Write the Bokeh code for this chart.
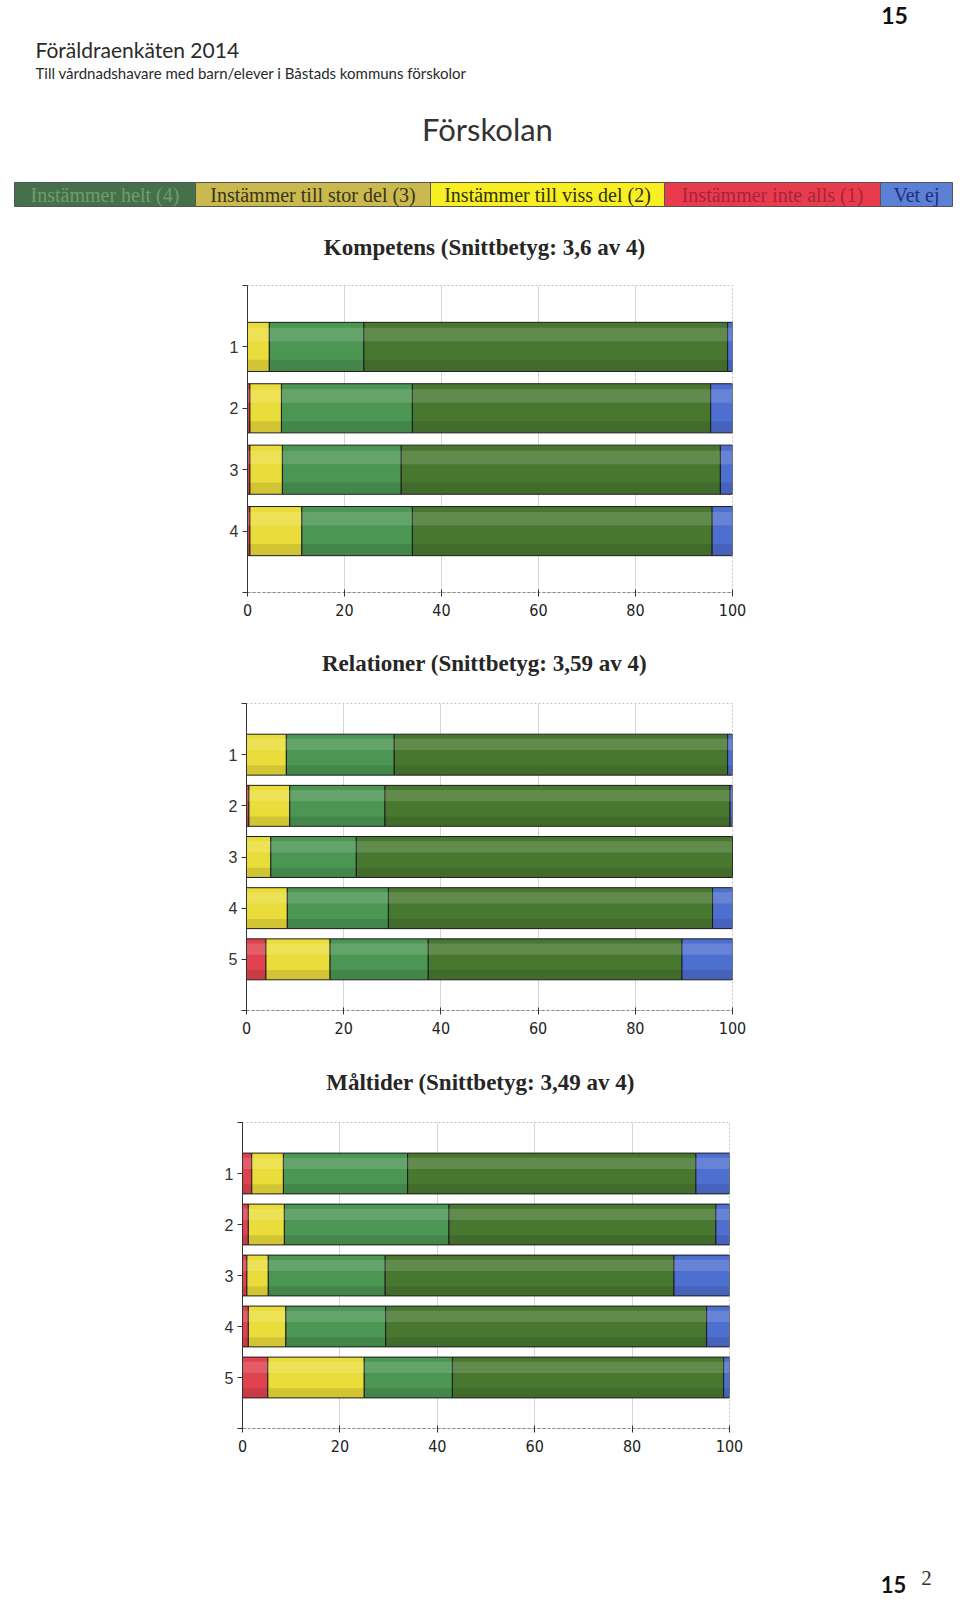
from bokeh.plotting import figure
from bokeh.models import ColumnDataSource, Range1d, FixedTicker
from bokeh.layouts import column
from bokeh.core.properties import value
from bokeh.transform import dodge
from bokeh.embed import file_html
from bokeh.resources import INLINE

# ---------------- data ----------------
page_number = "15"
doc_title = "Föräldraenkäten 2014"
doc_subtitle = "Till vårdnadshavare med barn/elever i Båstads kommuns förskolor"
section_title = "Förskolan"

legend_labels = ["Instämmer helt (4)", "Instämmer till stor del (3)",
                 "Instämmer till viss del (2)", "Instämmer inte alls (1)", "Vet ej"]

x_ticks = [0, 20, 40, 60, 80, 100]

kompetens_title = "Kompetens (Snittbetyg: 3,6 av 4)"
kompetens_rows = ["1", "2", "3", "4"]
kompetens_red = [0.0, 0.5, 0.5, 0.5]
kompetens_yellow = [4.5, 6.5, 6.7, 10.7]
kompetens_light = [19.5, 27.0, 24.5, 22.8]
kompetens_dark = [75.0, 61.5, 65.8, 61.8]
kompetens_blue = [1.0, 4.5, 2.5, 4.2]

relationer_title = "Relationer (Snittbetyg: 3,59 av 4)"
relationer_rows = ["1", "2", "3", "4", "5"]
relationer_red = [0.0, 0.5, 0.0, 0.0, 4.0]
relationer_yellow = [8.2, 8.4, 5.0, 8.4, 13.2]
relationer_light = [22.2, 19.6, 17.6, 20.8, 20.2]
relationer_dark = [68.6, 71.0, 77.4, 66.7, 52.2]
relationer_blue = [1.0, 0.5, 0.0, 4.1, 10.4]

maltider_title = "Måltider (Snittbetyg: 3,49 av 4)"
maltider_rows = ["1", "2", "3", "4", "5"]
maltider_red = [1.9, 1.2, 0.9, 1.2, 5.2]
maltider_yellow = [6.5, 7.4, 4.4, 7.7, 19.8]
maltider_light = [25.5, 33.8, 24.0, 20.5, 18.1]
maltider_dark = [59.2, 54.8, 59.3, 65.9, 55.7]
maltider_blue = [6.9, 2.8, 11.4, 4.7, 1.2]

# ---------------- styles ----------------
W = 960
BAR_COLORS = ["#e0424f", "#eadc3a", "#4b9652", "#487830", "#4d6fd0"]
LEG_FILL = ["#46704a", "#c9b94e", "#f8ef22", "#e93b4e", "#5c80d6"]
LEG_TEXT = ["#6f9c6c", "#3a3418", "#33300c", "#a8233a", "#1f2f7a"]
LEG_EDGES = [14, 195, 430, 664, 880, 952]


def no_align(f):
    try:
        f.frame_align = False
    except Exception:
        pass


def text_fig(h):
    f = figure(width=W, height=h, x_range=Range1d(0, W), y_range=Range1d(h, 0),
               output_backend="svg", toolbar_location=None, min_border=0,
               x_axis_location=None, y_axis_location=None)
    f.grid.visible = False
    f.outline_line_color = None
    f.background_fill_color = "white"
    f.border_fill_color = "white"
    no_align(f)
    return f


def put(f, x, y, t, size, font="Lato", color="#222222", style="normal", align="left"):
    f.text(x=[x], y=[y], text=[t], text_font=value(font), text_font_size=f"{size}px",
           text_color=color, text_font_style=style, text_align=align,
           text_baseline="middle")


def chart_title(f, x, y, t):
    put(f, x, y, t, 23, font="Liberation Serif", color="#262626", style="bold", align="center")


def chart(rows, red, yellow, light, dark, blue, height, top, bottom, left, fw):
    n = len(rows)
    total = [a + b + c + d + e for a, b, c, d, e in zip(red, yellow, light, dark, blue)]
    src = ColumnDataSource(dict(y=list(range(1, n + 1)), red=red, yellow=yellow,
                                light=light, dark=dark, blue=blue, total=total))
    p = figure(width=W, height=height, x_range=Range1d(0, 100), y_range=Range1d(n + 1, 0),
               output_backend="svg", toolbar_location=None,
               min_border_top=top, min_border_bottom=bottom,
               min_border_left=left, min_border_right=W - left - fw)
    no_align(p)
    p.background_fill_color = "white"
    p.border_fill_color = "white"
    p.outline_line_color = "#c4c4c4"
    p.outline_line_dash = "2 2"
    p.hbar_stack(["red", "yellow", "light", "dark", "blue"], y="y", height=0.8,
                 color=BAR_COLORS, line_color="#1c1c1c", line_width=1, source=src)
    # cylinder-like shading
    p.hbar(y=dodge("y", -0.2, range=p.y_range), left=0, right="total", height=0.22,
           fill_color="white", fill_alpha=0.14, line_color=None, source=src)
    p.hbar(y=dodge("y", 0.3, range=p.y_range), left=0, right="total", height=0.18,
           fill_color="black", fill_alpha=0.10, line_color=None, source=src)

    p.xaxis.ticker = FixedTicker(ticks=x_ticks)
    p.xgrid.ticker = FixedTicker(ticks=x_ticks)
    p.xgrid.grid_line_color = "#d6d6d6"
    p.ygrid.visible = False
    p.xaxis.axis_line_color = "#8a8a8a"
    p.xaxis.axis_line_dash = "3 2"
    p.xaxis.major_tick_in = 3
    p.xaxis.major_tick_out = 4
    p.xaxis.major_tick_line_color = "#333333"
    p.xaxis.minor_tick_line_color = None
    p.xaxis.major_label_standoff = 7
    p.xaxis.major_label_text_font = "'Liberation Sans Narrow', 'DejaVu Sans Condensed', sans-serif"
    p.xaxis.major_label_text_font_size = "16px"
    p.xaxis.major_label_text_color = "#222222"

    p.yaxis.ticker = FixedTicker(ticks=list(range(1, n + 1)), minor_ticks=[0, n + 1])
    p.yaxis.major_label_overrides = {i + 1: r for i, r in enumerate(rows)}
    p.yaxis.axis_line_color = "#333333"
    p.yaxis.major_tick_in = 0
    p.yaxis.major_tick_out = 5
    p.yaxis.minor_tick_in = 0
    p.yaxis.minor_tick_out = 5
    p.yaxis.major_tick_line_color = "#333333"
    p.yaxis.minor_tick_line_color = "#333333"
    p.yaxis.major_label_standoff = 4
    p.yaxis.major_label_text_font = "'Liberation Sans', Arial, sans-serif"
    p.yaxis.major_label_text_font_size = "16px"
    p.yaxis.major_label_text_color = "#333333"
    return p


# ---------------- header ----------------
head = text_fig(270)
put(head, 894, 15, page_number, 23, font="Lato", color="#111111", style="bold", align="center")
put(head, 35, 49, doc_title, 21, color="#2a2a2a")
put(head, 35, 72, doc_subtitle, 15, color="#2a2a2a")
put(head, 487, 128, section_title, 31, color="#333333", align="center")
head.quad(left=LEG_EDGES[:-1], right=LEG_EDGES[1:], top=[182] * 5, bottom=[206] * 5,
          fill_color=LEG_FILL, line_color="#555555", line_width=1)
for i, lab in enumerate(legend_labels):
    put(head, (LEG_EDGES[i] + LEG_EDGES[i + 1]) / 2, 194, lab, 20,
        font="Liberation Serif", color=LEG_TEXT[i], align="center")
chart_title(head, 484, 247, kompetens_title)

c1 = chart(kompetens_rows, kompetens_red, kompetens_yellow, kompetens_light,
           kompetens_dark, kompetens_blue, 360, 15, 38, 247, 485)
t2 = text_fig(58)
chart_title(t2, 484, 33, relationer_title)
c2 = chart(relationer_rows, relationer_red, relationer_yellow, relationer_light,
           relationer_dark, relationer_blue, 358, 15, 36, 246, 486)
t3 = text_fig(58)
chart_title(t3, 480, 36, maltider_title)
c3 = chart(maltider_rows, maltider_red, maltider_yellow, maltider_light,
           maltider_dark, maltider_blue, 362, 18, 38, 242, 487)

foot = text_fig(136)
put(foot, 893, 118, page_number, 22, font="Lato", color="#111111", style="bold", align="center")
put(foot, 926, 111, "2", 21, font="Liberation Serif", color="#333333", align="center")

layout = column(head, c1, t2, c2, t3, c3, foot, spacing=0)
open("out.html", "w").write(file_html(layout, INLINE))
